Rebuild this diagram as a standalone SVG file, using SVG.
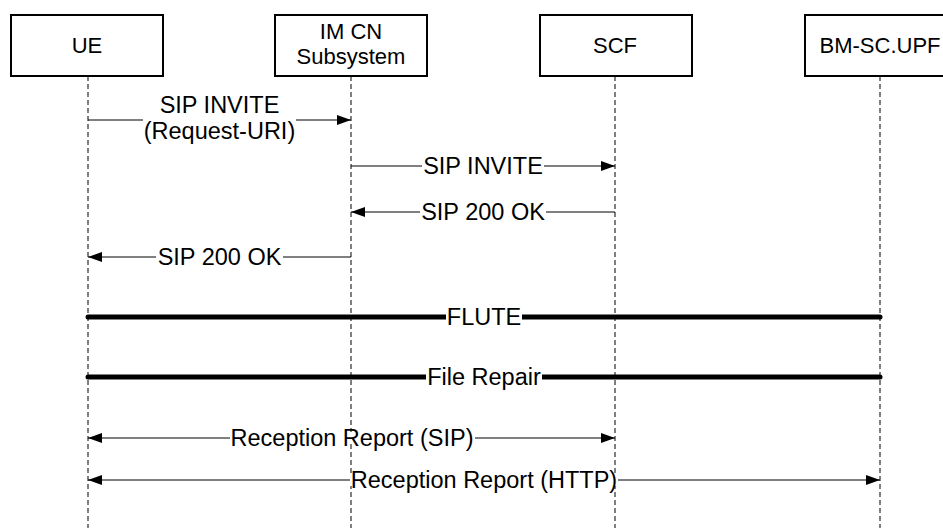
<svg xmlns="http://www.w3.org/2000/svg" width="943" height="528" viewBox="0 0 943 528">
<defs>
<marker id="ah" markerWidth="15" markerHeight="11" refX="14" refY="5" orient="auto-start-reverse" markerUnits="userSpaceOnUse">
<path d="M0,0 L14,5 L0,10 z" fill="#000"/>
</marker>
<style>
.box{fill:#fff;stroke:#000;stroke-width:2}
.nl{font-family:"Liberation Sans",Arial,sans-serif;font-size:22px;fill:#000;text-anchor:middle}
.ml{font-family:"Liberation Sans",Arial,sans-serif;font-size:23.5px;fill:#000;text-anchor:middle}
.life{stroke:#000;stroke-width:1;stroke-dasharray:5,3;fill:none}
.msg{stroke:#000;stroke-width:1;fill:none}
.thick{stroke:#000;stroke-width:5;stroke-linecap:round;fill:none}
.bg{fill:#fff}
</style>
</defs>
<rect width="943" height="528" fill="#fff"/>
<g id="lifelines">
<line class="life" x1="88" y1="76" x2="88" y2="528"/>
<line class="life" x1="351" y1="76" x2="351" y2="528"/>
<line class="life" x1="615" y1="76" x2="615" y2="528"/>
<line class="life" x1="880" y1="76" x2="880" y2="528"/>
</g>
<g id="UE">
<rect class="box" x="11" y="15" width="152" height="61"/>
<text class="nl" x="87" y="53">UE</text>
</g>
<g id="IMCN">
<rect class="box" x="275" y="15" width="152" height="61"/>
<text class="nl" x="351" y="39">IM CN</text>
<text class="nl" x="351" y="64">Subsystem</text>
</g>
<g id="SCF">
<rect class="box" x="540" y="15" width="152" height="61"/>
<text class="nl" x="615" y="53">SCF</text>
</g>
<g id="BMSC">
<rect class="box" x="805" y="15" width="152" height="61"/>
<text class="nl" x="880" y="53">BM-SC.UPF</text>
</g>
<g id="connectors">
<line class="msg" x1="88" y1="120" x2="351" y2="120" marker-end="url(#ah)"/>
<rect class="bg" x="143" y="110" width="153" height="20"/>
<text class="ml" x="219.5" y="113">SIP INVITE</text>
<text class="ml" x="219.5" y="139">(Request-URI)</text>

<line class="msg" x1="351" y1="166" x2="615" y2="166" marker-end="url(#ah)"/>
<rect class="bg" x="422" y="160" width="122" height="12"/>
<text class="ml" x="483" y="174">SIP INVITE</text>

<line class="msg" x1="615" y1="212" x2="351" y2="212" marker-end="url(#ah)"/>
<rect class="bg" x="420" y="206" width="126" height="12"/>
<text class="ml" x="483" y="220">SIP 200 OK</text>

<line class="msg" x1="351" y1="257" x2="88" y2="257" marker-end="url(#ah)"/>
<rect class="bg" x="156" y="251" width="127" height="12"/>
<text class="ml" x="219.5" y="265">SIP 200 OK</text>

<line class="thick" x1="88" y1="317" x2="880" y2="317"/>
<rect class="bg" x="446" y="311" width="76" height="12"/>
<text class="ml" x="484" y="325">FLUTE</text>

<line class="thick" x1="88" y1="377" x2="880" y2="377"/>
<rect class="bg" x="426" y="371" width="116" height="12"/>
<text class="ml" x="484" y="385">File Repair</text>

<line class="msg" x1="88" y1="438" x2="615" y2="438" marker-start="url(#ah)" marker-end="url(#ah)"/>
<rect class="bg" x="230" y="432" width="245" height="12"/>
<text class="ml" x="352" y="446">Reception Report (SIP)</text>

<line class="msg" x1="88" y1="480" x2="880" y2="480" marker-start="url(#ah)" marker-end="url(#ah)"/>
<rect class="bg" x="350" y="474" width="268" height="12"/>
<text class="ml" x="484" y="488">Reception Report (HTTP)</text>
</g>
</svg>
